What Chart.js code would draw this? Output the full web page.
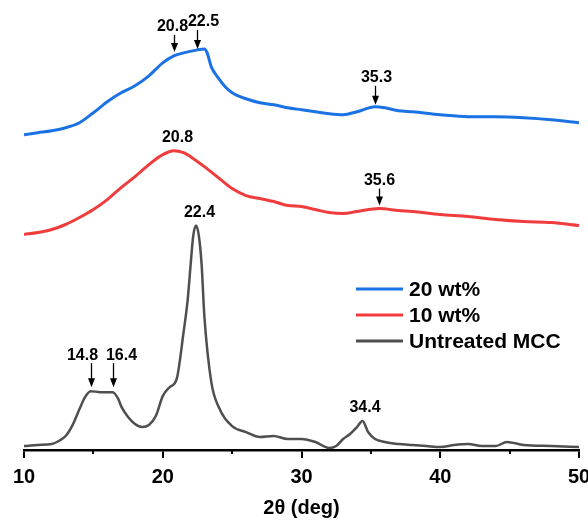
<!DOCTYPE html>
<html><head><meta charset="utf-8">
<script src="https://cdn.jsdelivr.net/npm/chart.js@4.4.1/dist/chart.umd.min.js"></script>
<style>html,body{margin:0;padding:0;background:#fff}</style>
</head><body>
<canvas id="c" width="588" height="520"></canvas>
<script>
// ---- data ----
const seriesNames = ['20 wt%', '10 wt%', 'Untreated MCC'];

const x20 = [10,11,12,13,14,15,16,17,18,19,20,20.8,21.5,22.5,23,23.2,23.5,24,24.5,25,26,27,28,29,30,31,32,33,34,35.3,36,37,38,40,42,44,46,48,50];
const y20 = [316,318,320,323,328,338,349,358,365,375,388,395,398,401,402,398,384,373,364,358,352,348,346,343,341,339,337,336,339,344,343,340,339,336,334,334,333,331,328];

const x10 = [10,11,12,13,14,15,16,17,18,19,20,20.8,21.5,22,23,24,25,26,27,28,29,30,31,32,33,34,35.6,37,38,40,42,44,46,48,50];
const y10 = [216,218,221,226,233,241,251,263,274,286,296,300,298,294,284,273,262,255,252,249,245,244,241,238,237,239,242,240,239,236,234,231,229,228,225];

const xMCC = [10,11,12,12.5,13,13.5,14,14.4,14.8,15.5,16.4,16.8,17,17.5,18,18.5,19,19.5,20,20.5,21,21.5,21.8,22,22.2,22.4,22.6,22.8,23,23.5,24,25,26,27,28,29,30,31,32,32.5,33,33.5,34,34.4,34.8,35.3,36,37,38,39,40,41,42,43,44,44.8,46,48,50];
const yMCC = [4,5,6,9,14,25,41,53,59,58,58,51,44,33,26,23,25,34,54,63,71,118,151,184,215,225,215,186,134,68,44,24,18,13,14,11,11,8,2,4,11,16,23,29,18,11,8,6,5,4,3,5,6,4,4,8,5,4,3];

const xTicks = [10, 20, 30, 40, 50];

// peak annotations (series index, 2θ, intensity at marker, text)
const annSeries = [0, 0, 0, 1, 1, 2, 2, 2, 2];
const annX      = [20.8, 22.5, 35.3, 20.8, 35.6, 14.8, 16.4, 22.4, 34.4];
const annY      = [398, 401, 345, 300, 244, 62, 62, 225, 29];
const annText   = ['20.8', '22.5', '35.3', '20.8', '35.6', '14.8', '16.4', '22.4', '34.4'];

// ---- styles ----
const colors = ['#1b72e4', '#f03c3c', '#4f4f4f'];
const widths = [3, 3, 2.5];
const annArrowLen = [17, 19, 19, 0, 17, 24, 24, 0, 0];
const annDx = [-2, 6, 1, 3, 0, -9, 8, 3, 1.5];
const FONT = '"Liberation Sans", Arial, Helvetica, sans-serif';

const toPts = (xs, ys) => xs.map((v, i) => ({x: v, y: ys[i]}));
const seriesX = [x20, x10, xMCC];
const seriesY = [y20, y10, yMCC];

const datasets = seriesNames.map((name, i) => ({
  label: name,
  data: toPts(seriesX[i], seriesY[i]),
  borderColor: colors[i],
  backgroundColor: colors[i],
  borderWidth: widths[i],
  pointRadius: 0,
  fill: false,
  cubicInterpolationMode: 'monotone'
}));

const minorTicks = {
  id: 'minorTicks',
  afterDraw(chart) {
    const {ctx, scales: {x}} = chart;
    ctx.save();
    ctx.strokeStyle = '#000';
    ctx.lineWidth = 2;
    for (let i = 0; i < xTicks.length - 1; i++) {
      const v = (xTicks[i] + xTicks[i + 1]) / 2;
      const px = Math.round(x.getPixelForValue(v));
      ctx.beginPath();
      ctx.moveTo(px, x.top);
      ctx.lineTo(px, x.top + 4);
      ctx.stroke();
    }
    ctx.restore();
  }
};

const peakLabels = {
  id: 'peakLabels',
  afterDatasetsDraw(chart) {
    const {ctx, scales: {x, y}} = chart;
    ctx.save();
    ctx.fillStyle = '#000';
    ctx.strokeStyle = '#000';
    ctx.lineWidth = 1.3;
    ctx.font = 'bold 16px ' + FONT;
    ctx.textAlign = 'center';
    ctx.textBaseline = 'middle';
    for (let i = 0; i < annX.length; i++) {
      const px = Math.round(x.getPixelForValue(annX[i])) + 0.5;
      const py = y.getPixelForValue(annY[i]);
      const len = annArrowLen[i];
      if (len > 0) {
        const tip = py - 1;
        const top = tip - len;
        ctx.beginPath();
        ctx.moveTo(px, top);
        ctx.lineTo(px, tip - 6);
        ctx.stroke();
        ctx.beginPath();
        ctx.moveTo(px - 3.5, tip - 9);
        ctx.lineTo(px + 3.5, tip - 9);
        ctx.lineTo(px, tip);
        ctx.closePath();
        ctx.fill();
        ctx.fillText(annText[i], px + annDx[i], top - 8);
      } else {
        ctx.fillText(annText[i], px + annDx[i], py - 13);
      }
    }
    ctx.restore();
  }
};

const customLegend = {
  id: 'customLegend',
  afterDraw(chart) {
    const {ctx} = chart;
    ctx.save();
    ctx.font = 'bold 21px ' + FONT;
    ctx.textAlign = 'left';
    ctx.textBaseline = 'middle';
    chart.data.datasets.forEach((ds, i) => {
      const yy = 289 + i * 26;
      ctx.strokeStyle = ds.borderColor;
      ctx.lineWidth = 3;
      ctx.beginPath();
      ctx.moveTo(356, yy);
      ctx.lineTo(403, yy);
      ctx.stroke();
      ctx.fillStyle = '#000';
      ctx.fillText(ds.label, 409, yy + 1);
    });
    ctx.restore();
  }
};

new Chart(document.getElementById('c'), {
  type: 'line',
  data: {datasets},
  plugins: [minorTicks, peakLabels, customLegend],
  options: {
    responsive: false,
    animation: false,
    devicePixelRatio: 1,
    layout: {padding: {left: 24, right: 9, top: 0, bottom: 0}},
    plugins: {legend: {display: false}, tooltip: {enabled: false}},
    scales: {
      x: {
        type: 'linear',
        min: 10, max: 50,
        afterBuildTicks: (s) => { s.ticks = xTicks.map(v => ({value: v})); },
        afterFit: (s) => { s.paddingLeft = 0; s.paddingRight = 0; },
        ticks: {color: '#000', font: {family: FONT, size: 20, weight: 'bold'}, padding: 7, maxRotation: 0},
        grid: {display: true, drawOnChartArea: false, drawTicks: true, tickLength: 8, color: '#000', lineWidth: 2},
        border: {display: true, color: '#000', width: 2.5},
        title: {display: true, text: '2θ (deg)', color: '#000', font: {family: FONT, size: 20, weight: 'bold'}, padding: {top: 0, bottom: 0}}
      },
      y: {
        type: 'linear', display: false, min: 0, max: 451
      }
    }
  }
});
</script>
</body></html>
